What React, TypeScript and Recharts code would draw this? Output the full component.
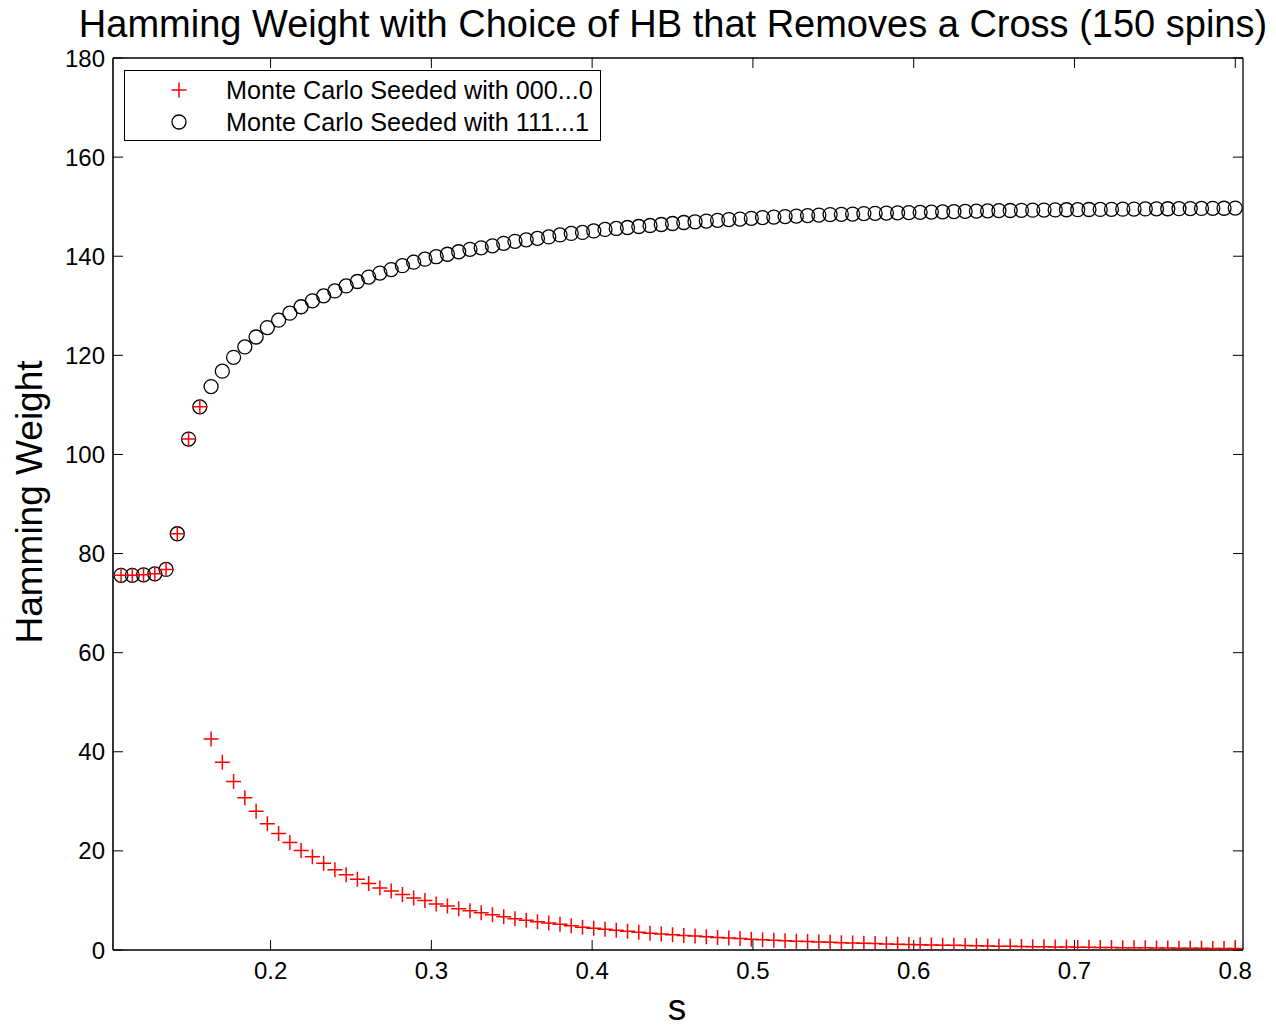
import React from "react";
import {
  ScatterChart,
  Scatter,
  XAxis,
  YAxis,
  Legend,
} from "recharts";

const FONT = '"Liberation Sans", Arial, Helvetica, sans-serif';

// transverse field s
const sValues = [
  0.107, 0.114, 0.121, 0.128, 0.135, 0.142, 0.149, 0.156, 0.163, 0.17,
  0.177, 0.184, 0.191, 0.198, 0.205, 0.212, 0.219, 0.226, 0.233, 0.24,
  0.247, 0.254, 0.261, 0.268, 0.275, 0.282, 0.289, 0.296, 0.303, 0.31,
  0.317, 0.324, 0.331, 0.338, 0.345, 0.352, 0.359, 0.366, 0.373, 0.38,
  0.387, 0.394, 0.401, 0.408, 0.415, 0.422, 0.429, 0.436, 0.443, 0.45,
  0.457, 0.464, 0.471, 0.478, 0.485, 0.492, 0.499, 0.506, 0.513, 0.52,
  0.527, 0.534, 0.541, 0.548, 0.555, 0.562, 0.569, 0.576, 0.583, 0.59,
  0.597, 0.604, 0.611, 0.618, 0.625, 0.632, 0.639, 0.646, 0.653, 0.66,
  0.667, 0.674, 0.681, 0.688, 0.695, 0.702, 0.709, 0.716, 0.723, 0.73,
  0.737, 0.744, 0.751, 0.758, 0.765, 0.772, 0.779, 0.786, 0.793, 0.8,
];

// Monte Carlo seeded with 000...0
const seededZeros = [
  75.6, 75.6, 75.7, 75.9, 76.8, 84.0, 103.1, 109.6,
  42.6, 37.9, 34.0, 30.7, 28.0, 25.5, 23.5, 21.7, 20.1, 18.8,
  17.5, 16.2, 15.2, 14.3, 13.4, 12.5, 11.9, 11.2, 10.5, 10.0,
  9.3, 8.9, 8.3, 7.9, 7.5, 7.1, 6.7, 6.3, 6.0, 5.7,
  5.45, 5.2, 4.9, 4.6, 4.4,
  4.2, 4.0, 3.8, 3.6, 3.4, 3.25, 3.1, 2.95, 2.8, 2.65,
  2.5, 2.4, 2.3, 2.15, 2.05, 1.95, 1.87, 1.78, 1.7, 1.62,
  1.55, 1.48, 1.41, 1.35, 1.29, 1.23, 1.18, 1.13, 1.08, 1.03,
  0.98, 0.94, 0.9, 0.86, 0.82, 0.78, 0.75, 0.71, 0.68, 0.65,
  0.62, 0.6, 0.57, 0.54, 0.52, 0.5, 0.47, 0.45, 0.43, 0.41,
  0.39, 0.37, 0.35, 0.34, 0.32, 0.31, 0.29,
];

// Monte Carlo seeded with 111...1
const seededOnes = [
  75.6, 75.6, 75.7, 75.9, 76.8, 84.0, 103.1, 109.6,
  113.7, 116.8, 119.6, 121.7, 123.7, 125.6, 127.1, 128.5, 129.8, 131.0,
  132.0, 133.0, 134.0, 134.9, 135.8, 136.6, 137.3, 138.1, 138.8, 139.4,
  139.9, 140.4, 140.9, 141.4, 141.7, 142.1, 142.6, 143.0, 143.3, 143.6,
  143.9, 144.3, 144.6, 144.8, 145.1,
  145.4, 145.6, 145.8, 146.0, 146.2, 146.4, 146.6, 146.8, 146.95, 147.1,
  147.25, 147.4, 147.5, 147.65, 147.8, 147.9, 148.0, 148.1, 148.2, 148.3,
  148.4, 148.45, 148.5, 148.6, 148.65, 148.7, 148.75, 148.8, 148.85, 148.9,
  148.95, 149.0, 149.05, 149.1, 149.15, 149.2, 149.23, 149.26, 149.29, 149.32,
  149.35, 149.38, 149.4, 149.43, 149.45, 149.47, 149.5, 149.52, 149.54, 149.56,
  149.58, 149.6, 149.62, 149.64, 149.66, 149.68, 149.72,
];

const xTicks = [0.2, 0.3, 0.4, 0.5, 0.6, 0.7, 0.8];
const yTicks = [0, 20, 40, 60, 80, 100, 120, 140, 160, 180];

const zerosData = sValues.map((s, i) => ({ s, w: seededZeros[i] }));
const onesData = sValues.map((s, i) => ({ s, w: seededOnes[i] }));

const W = 1266;
const H = 1015;

const Cross = (props: any) => {
  const { cx, cy } = props;
  return (
    <path
      d={`M${cx - 7.5},${cy}h15M${cx},${cy - 7.5}v15`}
      stroke="#ff0000"
      strokeWidth={1.5}
      fill="none"
    />
  );
};

const Ring = (props: any) => {
  const { cx, cy } = props;
  return <circle cx={cx} cy={cy} r={7} fill="none" stroke="#000" strokeWidth={1.3} />;
};

const NoLabel = () => <g />;

const LegendBox = () => (
  <div
    style={{
      width: 475,
      height: 69,
      border: "1.3px solid #000",
      background: "#fff",
      fontFamily: FONT,
      fontSize: 25.2,
      color: "#000",
      position: "relative",
    }}
  >
    <svg width={40} height={69} style={{ position: "absolute", left: 34, top: 0 }}>
      <path d="M12.5,19h15M20,11.5v15" stroke="#ff0000" strokeWidth={1.5} fill="none" />
      <circle cx={20} cy={51} r={7} fill="none" stroke="#000" strokeWidth={1.3} />
    </svg>
    <div style={{ position: "absolute", left: 101, top: 4, lineHeight: "30px", whiteSpace: "nowrap" }}>
      Monte Carlo Seeded with 000...0
    </div>
    <div style={{ position: "absolute", left: 101, top: 36, lineHeight: "30px", whiteSpace: "nowrap" }}>
      Monte Carlo Seeded with 111...1
    </div>
  </div>
);

export default function App() {
  const tickStyle = { fontSize: 24, fill: "#000", fontFamily: FONT };
  return (
    <div style={{ position: "relative", width: W, height: H, fontFamily: FONT }}>
      <div
        style={{
          position: "absolute",
          left: 0,
          width: 1330,
          top: -6,
          textAlign: "center",
          fontSize: 38,
          whiteSpace: "nowrap",
          lineHeight: "44px",
        }}
      >
        Hamming Weight with Choice of HB that Removes a Cross (150 spins)
      </div>
      <div
        style={{
          position: "absolute",
          left: 22 - 200,
          top: 494 - 22,
          width: 400,
          textAlign: "center",
          fontSize: 37,
          lineHeight: "44px",
          transform: "rotate(-90deg)",
          whiteSpace: "nowrap",
        }}
      >
        Hamming Weight
      </div>
      <div
        style={{
          position: "absolute",
          left: 669 - 50,
          top: 980,
          width: 100,
          textAlign: "center",
          fontSize: 37,
          lineHeight: "40px",
        }}
      >
        s
      </div>
      <ScatterChart
        width={W}
        height={H}
        margin={{ top: 49, right: 30, bottom: 0, left: 0 }}
        style={{ position: "absolute", left: 0, top: 0 }}
      >
        <XAxis
          xAxisId="bottom"
          dataKey="s"
          type="number"
          domain={[0.102, 0.8048]}
          ticks={xTicks}
          height={73}
          tickSize={-10}
          tickMargin={22}
          tick={tickStyle}
          axisLine={{ stroke: "#000", strokeWidth: 1.6 }}
          tickLine={{ stroke: "#000", strokeWidth: 1 }}
          allowDataOverflow
        />
        <XAxis
          xAxisId="top"
          orientation="top"
          dataKey="s"
          type="number"
          domain={[0.102, 0.8048]}
          ticks={xTicks}
          height={1}
          tickSize={-10}
          tick={NoLabel}
          axisLine={{ stroke: "#000", strokeWidth: 1.3 }}
          tickLine={{ stroke: "#000", strokeWidth: 1 }}
          allowDataOverflow
        />
        <YAxis
          yAxisId="left"
          dataKey="w"
          type="number"
          domain={[0, 180]}
          ticks={yTicks}
          width={105}
          tickSize={-10}
          tickMargin={18}
          tick={tickStyle}
          axisLine={{ stroke: "#000", strokeWidth: 1.6 }}
          tickLine={{ stroke: "#000", strokeWidth: 1 }}
          allowDataOverflow
        />
        <YAxis
          yAxisId="right"
          orientation="right"
          dataKey="w"
          type="number"
          domain={[0, 180]}
          ticks={yTicks}
          width={1}
          tickSize={-10}
          tick={NoLabel}
          axisLine={{ stroke: "#000", strokeWidth: 1.3 }}
          tickLine={{ stroke: "#000", strokeWidth: 1 }}
          allowDataOverflow
        />
        <Scatter
          name="Monte Carlo Seeded with 111...1"
          data={onesData}
          xAxisId="bottom"
          yAxisId="left"
          shape={Ring}
          isAnimationActive={false}
        />
        <Scatter
          name="Monte Carlo Seeded with 000...0"
          data={zerosData}
          xAxisId="bottom"
          yAxisId="left"
          shape={Cross}
          isAnimationActive={false}
        />
        <Legend
          layout="vertical"
          align="center"
          verticalAlign="middle"
          content={<LegendBox />}
          wrapperStyle={{ position: "absolute", left: 116, top: 62, width: "auto", height: "auto" }}
        />
      </ScatterChart>
    </div>
  );
}
